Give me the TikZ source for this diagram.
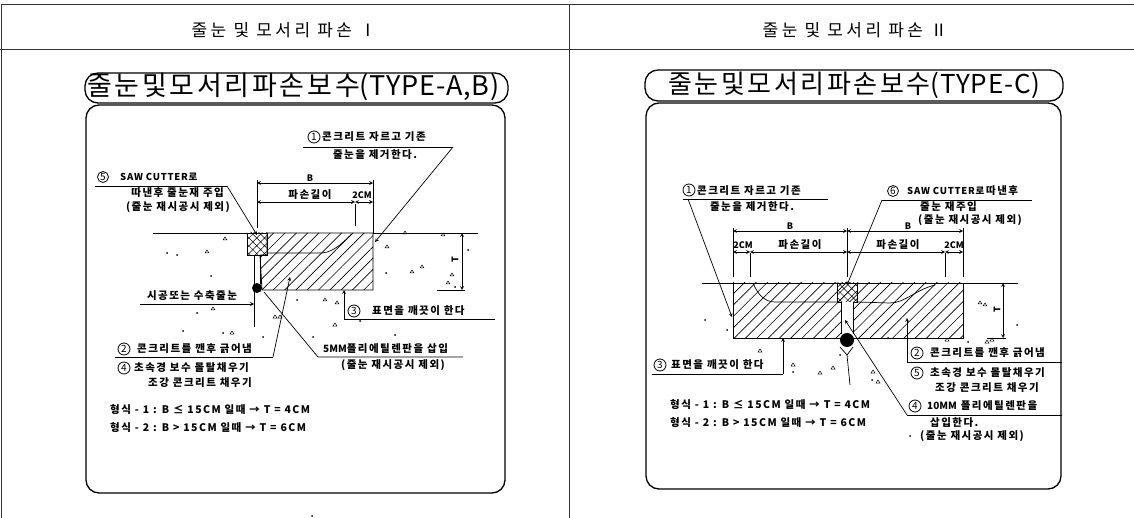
\documentclass[tikz,border=0pt]{standalone}
\usepackage{fontspec}
\setmainfont{Noto Sans CJK KR}
\newfontfamily\krlabel[LetterSpace=14]{Noto Sans CJK KR}
\newfontfamily\krhead[LetterSpace=20]{Noto Sans CJK KR}
\newfontfamily\krtitle[LetterSpace=10]{Noto Sans CJK KR}
\newfontfamily\krtype[LetterSpace=3]{Noto Sans CJK KR}
\newfontfamily\krsaw[LetterSpace=8]{Noto Sans CJK KR}
\newcommand{\lat}[1]{{\normalfont\bfseries\fontsize{10}{10}\selectfont #1}}
\usetikzlibrary{arrows}
\usetikzlibrary{patterns}
\usetikzlibrary{patterns.meta}
\tikzset{
  rule/.style={black!80, line width=0.9pt},
  frame/.style={black, line width=1.3pt, rounded corners=13pt},
  thin line/.style={black, line width=0.7pt},
  leader/.style={black, line width=0.7pt, -stealth},
  dim/.style={black, line width=0.7pt, stealth-stealth},
  lbl/.style={font=\krlabel\bfseries\fontsize{10.5}{11}\selectfont, inner sep=0pt, anchor=west},
  sawlbl/.style={font=\krsaw\bfseries\fontsize{9.5}{10}\selectfont, inner sep=0pt, anchor=west},
  latin/.style={font=\bfseries\fontsize{9}{9}\selectfont, inner sep=0pt},
  numcirc/.style={circle, draw, line width=0.8pt, inner sep=0pt, minimum size=12pt, font=\fontsize{10}{10}\selectfont},
  hatched/.style={pattern={Lines[angle=45,distance=8pt,line width=0.65pt]}, draw=black, line width=0.8pt},
  crossed/.style={pattern={Hatch[angle=45,distance=5.5pt,line width=0.5pt]}, draw=black, line width=0.7pt},
  speck/.style={black, line width=0.5pt},
  dot/.style={black}
}
\begin{document}
\begin{tikzpicture}[x=1pt,y=-1pt]
  \useasboundingbox (0,0) rectangle (1134,518);
  \draw[rule] (1,518) -- (1,4) -- (1134,4);
  \draw[rule] (0,49) -- (1134,49);
  \draw[rule] (569,4) -- (569,518);
  \node[font=\krhead\fontsize{17}{18}\selectfont, inner sep=0pt] (hdrA) at (284,30) {줄눈 및 모서리 파손 Ⅰ};
  \node[font=\krhead\fontsize{17}{18}\selectfont, inner sep=0pt] (hdrB) at (855,30) {줄눈 및 모서리 파손 Ⅱ};

  % left detail
  \draw[frame] (85,73) rectangle (508,103);
  \draw[frame] (86,105) rectangle (505,493);
  \node[font=\krtitle\fontsize{27}{28}\selectfont, inner sep=0pt, anchor=west] (titleA) at (87,87) {줄눈및모서리파손보수{\krtype(TYPE-A,B)}};
  \draw[thin line] (153,233) -- (247,233);
  \draw[thin line] (373,233) -- (478,233);
  \draw[hatched] (267,233) -- (373,233) -- (373,290) -- (262,290) -- (260,255) -- (267,255) -- cycle;
  \draw[crossed] (247,233) rectangle (267,255);
  \draw[thin line] (267,253) -- (322,253) .. controls (335,252) and (345,240) .. (352,234);
  \draw[thin line] (254,255) -- (254,327);
  \draw[thin line] (260,255) -- (260,284);
  \fill[black] (257,288) circle (5pt);
  \node[inner sep=0pt, latin] (lblBA) at (310,178) {B};
  \node[lbl, anchor=center] (lossA) at (310,195) {파손길이};
  \node[latin] (cmA) at (362,195) {2CM};
  \coordinate (dA0) at (257,183);
  \coordinate (dA1) at (373,183);
  \coordinate (dA2) at (257,202);
  \coordinate (dA3) at (355,202);
  \coordinate (dA4) at (373,202);
  \draw[dim] (dA0) -- (dA1);
  \draw[dim] (dA2) -- (dA3);
  \draw[dim] (dA3) -- (dA4);
  \draw[thin line] (257,180) -- (257,228);
  \draw[thin line] (373,180) -- (373,233);
  \draw[thin line] (355,204) -- (355,226);
  \draw[thin line] (437,290) -- (465,290);
  \draw[dim] (462,233) -- (462,290);
  \node[latin, rotate=90] (tA) at (455,260) {T};

  \node[numcirc] (cA1) at (314,137) {1};
  \node[lbl] (tA1) at (322,137) {콘크리트 자르고 기존};
  \node[lbl, anchor=center] (tA1b) at (375,155) {줄눈을 제거한다.};
  \coordinate (lA1a) at (303,147);
  \coordinate (lA1b) at (453,147);
  \coordinate (lA1c) at (375,242);
  \draw[thin line] (lA1a) -- (lA1b);
  \draw[leader] (lA1b) -- (lA1c);

  \node[numcirc, minimum size=11pt] (cA5) at (103,177) {5};
  \node[sawlbl] (tA5) at (120,177) {SAW CUTTER로};
  \node[lbl, anchor=east] (tA5b) at (224,193) {따낸후 줄눈재 주입};
  \node[lbl, anchor=east] (tA5c) at (230,207) {(줄눈 재시공시 제외)};
  \coordinate (lA5a) at (95,186);
  \coordinate (lA5b) at (227,186);
  \coordinate (lA5c) at (257,235);
  \draw[thin line] (lA5a) -- (lA5b);
  \draw[leader] (lA5b) -- (lA5c);

  \node[lbl, anchor=center] (tA6) at (192,296) {시공또는 수축줄눈};
  \coordinate (lA6a) at (140,304);
  \coordinate (lA6b) at (254,304);
  \draw[leader] (lA6a) -- (lA6b);

  \node[numcirc] (cA2) at (124,349) {2};
  \node[lbl] (tA2) at (137,349) {콘크리트를 깬후 긁어냄};
  \coordinate (lA2a) at (115,357);
  \coordinate (lA2b) at (273,357);
  \coordinate (lA2c) at (290,277);
  \draw[thin line] (lA2a) -- (lA2b);
  \draw[leader] (lA2b) -- (lA2c);
  \node[numcirc] (cA4) at (124,368) {4};
  \node[lbl] (tA4) at (134,368) {초속경 보수 몰탈채우기};
  \node[lbl, anchor=center] (tA4b) at (200,383) {조강 콘크리트 채우기};

  \node[lbl] (tA7) at (323,349) {\lat{5MM}폴리에틸렌판을 삽입};
  \node[lbl, anchor=center] (tA7b) at (393,365) {(줄눈 재시공시 제외)};
  \coordinate (lA7a) at (463,357);
  \coordinate (lA7b) at (318,357);
  \coordinate (lA7c) at (264,292);
  \draw[thin line] (lA7a) -- (lA7b) -- (lA7c);

  \node[numcirc] (cA3) at (354,311) {3};
  \node[lbl] (tA3) at (372,311) {표면을 깨끗이 한다};
  \coordinate (lA3a) at (495,319);
  \coordinate (lA3b) at (344,319);
  \coordinate (lA3c) at (344,290);
  \draw[thin line] (lA3a) -- (lA3b);
  \draw[leader] (lA3b) -- (lA3c);

  \node[lbl] (fA1) at (110,410) {형식 - 1 : B ≤ 15CM 일때 → T = 4CM};
  \node[lbl] (fA2) at (110,428) {형식 - 2 : B > 15CM 일때 → T = 6CM};

  % right detail
  \draw[frame] (645,70) rectangle (1063,101);
  \draw[frame] (646,103) rectangle (1061,489);
  \node[font=\krtitle\fontsize{26}{27}\selectfont, inner sep=0pt, anchor=west] (titleB) at (668,85) {줄눈및모서리파손보수{\krtype(TYPE-C)}};
  \draw[thin line] (702,283) -- (1018,283);
  \draw[hatched] (733,283) rectangle (963,338);
  \draw[crossed] (837,283) rectangle (857,302);
  \fill[white] (841,302) rectangle (853,338);
  \draw[thin line] (841,302) -- (841,334);
  \draw[thin line] (853,302) -- (853,334);
  \draw[thin line] (753,283) .. controls (758,295) and (765,302) .. (775,302) -- (837,302);
  \draw[thin line] (857,302) -- (890,303) .. controls (905,303) and (915,290) .. (935,285);
  \fill[black] (847,340) circle (7pt);
  \draw[thin line] (840,347) -- (847,355) -- (853,347);
  \draw[thin line] (847,355) -- (850,385);

  \node[latin] (lblBB) at (790,226) {B};
  \node[latin] (lblBC) at (908,226) {B};
  \node[lbl, anchor=center] (lossB) at (800,245) {파손길이};
  \node[lbl, anchor=center] (lossC) at (898,245) {파손길이};
  \node[latin] (cmB) at (743,245) {2CM};
  \node[latin] (cmC) at (954,245) {2CM};
  \coordinate (dB0) at (733,231);
  \coordinate (dB1) at (847,231);
  \coordinate (dB2) at (963,231);
  \coordinate (dB3) at (733,252);
  \coordinate (dB4) at (750,252);
  \coordinate (dB5) at (847,252);
  \coordinate (dB6) at (945,252);
  \coordinate (dB7) at (963,252);
  \draw[dim] (dB0) -- (dB1);
  \draw[dim] (dB1) -- (dB2);
  \draw[dim] (dB3) -- (dB4);
  \draw[dim] (dB4) -- (dB5);
  \draw[dim] (dB5) -- (dB6);
  \draw[dim] (dB6) -- (dB7);
  \draw[thin line] (733,228) -- (733,277);
  \draw[thin line] (750,253) -- (750,277);
  \draw[thin line] (847,228) -- (847,277);
  \draw[thin line] (945,253) -- (945,277);
  \draw[thin line] (963,228) -- (963,277);
  \draw[thin line] (987,338) -- (1006,338);
  \draw[dim] (1003,283) -- (1003,338);
  \node[latin, rotate=90] (tB) at (997,310) {T};

  \node[numcirc] (cB1) at (689,190) {1};
  \node[lbl] (tB1) at (697,191) {콘크리트 자르고 기존};
  \node[lbl, anchor=center] (tB1b) at (752,207) {줄눈을 제거한다.};
  \coordinate (lB1a) at (683,199);
  \coordinate (lB1b) at (828,199);
  \coordinate (lB1c) at (688,199);
  \coordinate (lB1d) at (732,317);
  \draw[thin line] (lB1a) -- (lB1b);
  \draw[leader] (lB1c) -- (lB1d);

  \node[numcirc, minimum size=11pt] (cB6) at (893,191) {6};
  \node[sawlbl] (tB6) at (907,191) {SAW CUTTER로};
  \node[lbl] (tB6a) at (986,191) {따낸후};
  \node[lbl] (tB6b) at (920,207) {줄눈 재주입};
  \node[lbl] (tB6c) at (918,220) {(줄눈 재시공시 제외)};
  \coordinate (lB6a) at (1032,200);
  \coordinate (lB6b) at (882,200);
  \coordinate (lB6c) at (847,285);
  \draw[thin line] (lB6a) -- (lB6b);
  \draw[leader] (lB6b) -- (lB6c);

  \node[numcirc] (cB3) at (660,365) {3};
  \node[lbl] (tB3) at (671,365) {표면을 깨끗이 한다};
  \coordinate (lB3a) at (652,374);
  \coordinate (lB3b) at (783,374);
  \coordinate (lB3c) at (783,338);
  \draw[thin line] (lB3a) -- (lB3b);
  \draw[leader] (lB3b) -- (lB3c);

  \node[numcirc] (cB2) at (917,353) {2};
  \node[lbl] (tB2) at (930,353) {콘크리트를 깬후 긁어냄};
  \coordinate (lB2a) at (1062,362);
  \coordinate (lB2b) at (907,362);
  \coordinate (lB2c) at (907,318);
  \draw[thin line] (lB2a) -- (lB2b);
  \draw[leader] (lB2b) -- (lB2c);
  \node[numcirc] (cB5) at (917,373) {5};
  \node[lbl] (tB5) at (930,373) {초속경 보수 몰탈채우기};
  \node[lbl] (tB5b) at (935,388) {조강 콘크리트 채우기};

  \node[numcirc] (cB4) at (915,406) {4};
  \node[lbl] (tB4) at (927,406) {\lat{10MM} 폴리에틸렌판을};
  \coordinate (lB4a) at (1062,415);
  \coordinate (lB4b) at (907,415);
  \coordinate (lB4c) at (845,320);
  \draw[thin line] (lB4a) -- (lB4b);
  \draw[leader] (lB4b) -- (lB4c);
  \node[lbl] (tB4b) at (930,423) {삽입한다.};
  \node[lbl] (tB4c) at (920,436) {(줄눈 재시공시 제외)};

  \node[lbl] (fB1) at (670,405) {형식 - 1 : B ≤ 15CM 일때 → T = 4CM};
  \node[lbl] (fB2) at (670,423) {형식 - 2 : B > 15CM 일때 → T = 6CM};

  \foreach \px/\py in {207/252,225/239,387/247,412/272,422/267,448/283,452/275,405/233,443/235,213/309,232/333,275/317,280/317,325/300,337/303,335/325,980/303,985/305,760/351,793/365,820/373,833/368,873/372,878/382,947/340,987/342,992/340}
    \draw[speck] (\px-2,\py+1) -- (\px+2,\py+1) -- (\px,\py-2) -- cycle;
  \foreach \px/\py in {167/253,177/255,211/276,386/273,468/250,455/287,197/313,183/331,223/333,263/337,297/300,313/337,395/335,360/321,705/320,727/330,793/372,840/355,872/380,888/338,968/342,1017/325,910/436,312/516}
    \fill[dot] (\px,\py) circle (1pt);
\end{tikzpicture}
\end{document}
